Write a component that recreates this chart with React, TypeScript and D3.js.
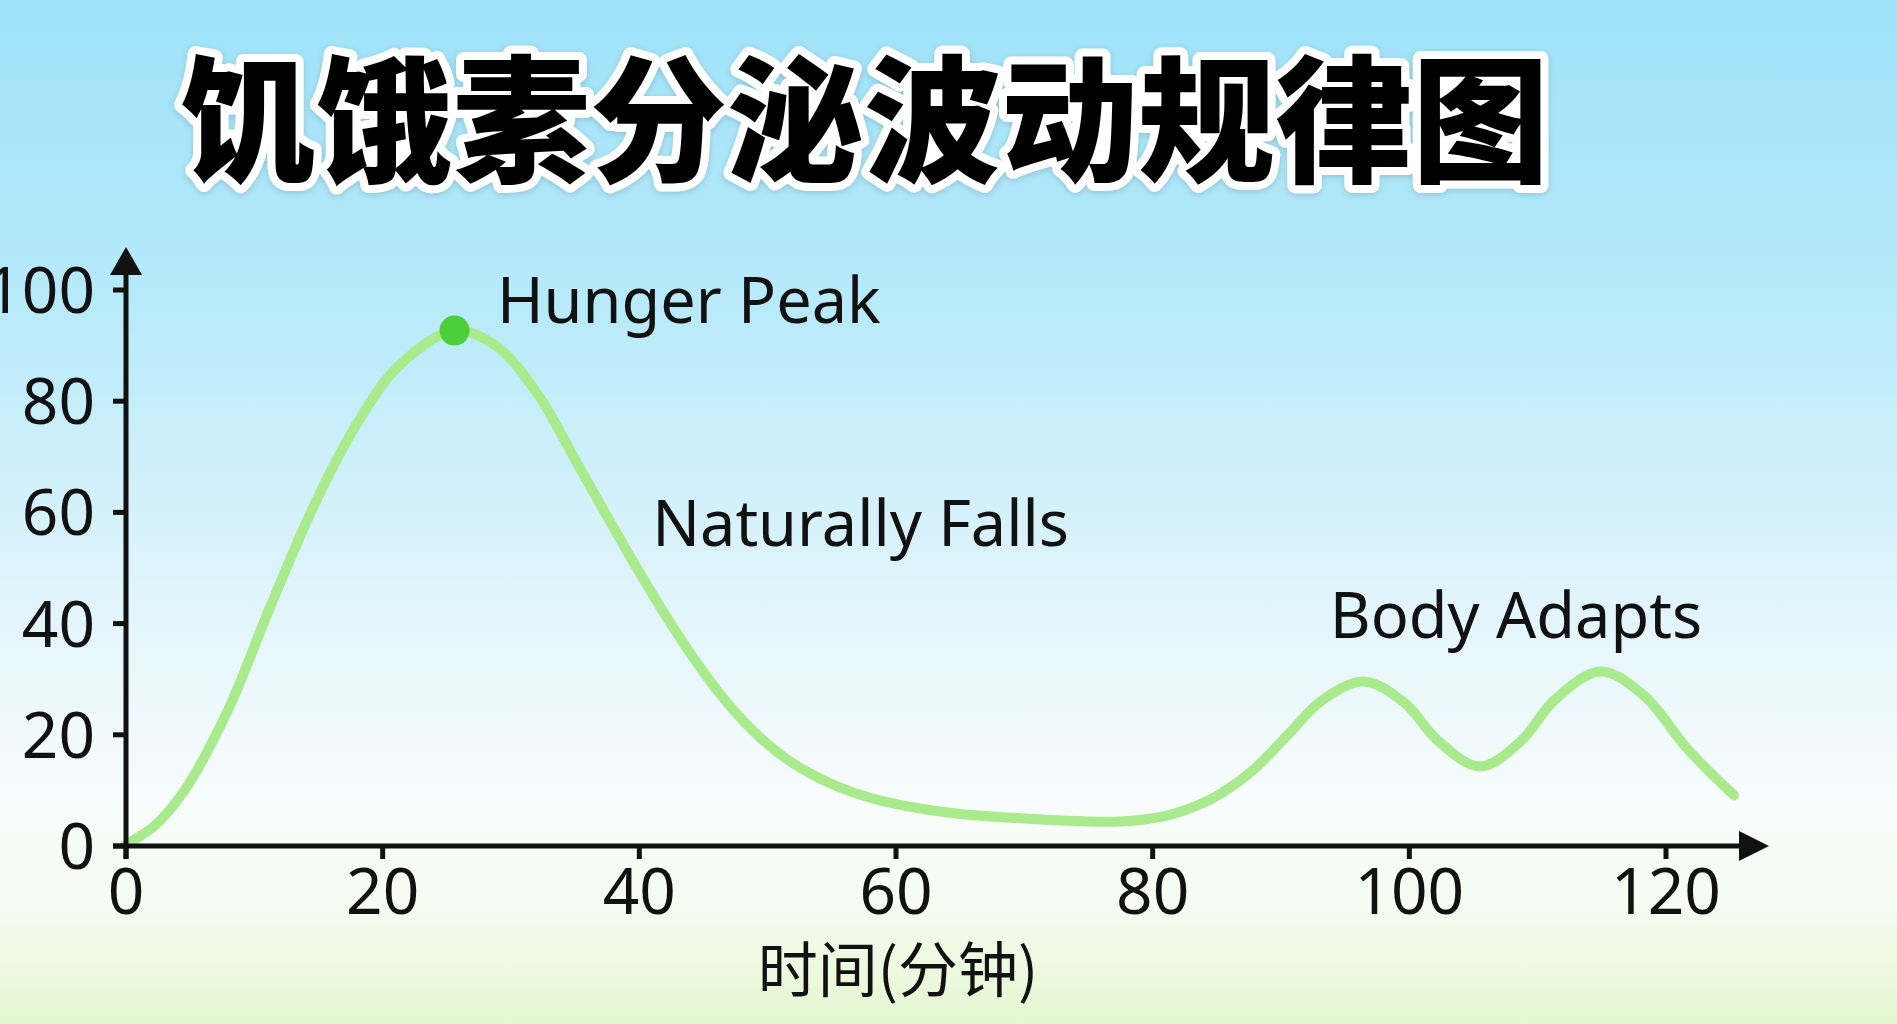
import React from "react";
import * as d3 from "d3";

const W = 1897;
const H = 1024;

const title = "饥饿素分泌波动规律图";
const xAxisTitle = "时间(分钟)";
const xTicks = [0, 20, 40, 60, 80, 100, 120];
const yTicks = [0, 20, 40, 60, 80, 100];

const times = [0, 2.2, 4.5, 7.9, 11.2, 14.6, 17.9, 21.2, 25.6, 28.8, 32.1, 35.4, 38.5, 41.1, 43.7, 46.3, 48.9, 51.5, 54.1, 56.7, 59.3, 64.5, 69.7, 77.5, 81, 83.5, 85.3, 87.9, 90.5, 93.1, 96.4, 99.6, 102.2, 105.5, 108.7, 111.3, 114.9, 118.3, 121.7, 125.3];
const levels = [0.3, 3.6, 9.8, 24.2, 42.8, 61.0, 75.6, 86.2, 92.7, 90.0, 81.2, 67.8, 55.2, 45.0, 35.6, 27.3, 20.6, 15.6, 12.1, 9.6, 7.9, 5.9, 5.0, 4.4, 5.4, 7.3, 9.4, 13.8, 19.9, 26.0, 29.6, 25.8, 19.0, 14.3, 18.9, 26.2, 31.4, 27.0, 17.4, 9.1];

const peakPoint = { t: 25.6, v: 92.7 };

const annotationTexts = ["Hunger Peak", "Naturally Falls", "Body Adapts"];
const annotationT = [28.9, 41.0, 93.8];
const annotationV = [94, 54, 37.5];

export default function App() {
  const x = d3.scaleLinear().domain([0, 120]).range([126, 1666]);
  const y = d3.scaleLinear().domain([0, 100]).range([846, 290]);

  const data = times.map((t, i) => ({ t, v: levels[i] }));
  const line = d3
    .line<{ t: number; v: number }>()
    .x((d) => x(d.t))
    .y((d) => y(d.v))
    .curve(d3.curveCatmullRom.alpha(0.5));

  const x0 = x(0);
  const y0 = y(0);
  const xEnd = 1769;
  const yTop = 247;

  const font = "'Noto Sans', 'Open Sans', sans-serif";

  return (
    <svg
      width={W}
      height={H}
      viewBox={`0 0 ${W} ${H}`}
      style={{ position: "fixed", left: 0, top: 0, display: "block" }}
    >
      <defs>
        <linearGradient id="bg" x1="0" y1="0" x2="0" y2="1">
          <stop offset="0" stopColor="#9ee2f9" />
          <stop offset="0.3" stopColor="#b8eafa" />
          <stop offset="0.55" stopColor="#dcf3fb" />
          <stop offset="0.78" stopColor="#f8fcfc" />
          <stop offset="0.88" stopColor="#f6fcf2" />
          <stop offset="1" stopColor="#e4f6d0" />
        </linearGradient>
        <filter id="tshadow" x="-10%" y="-30%" width="120%" height="160%">
          <feDropShadow dx="0" dy="2" stdDeviation="3" floodColor="#000" floodOpacity="0.15" />
        </filter>
      </defs>
      <rect x={0} y={0} width={W} height={H} fill="url(#bg)" />

      {/* title */}
      <text
        x={864}
        y={172}
        textAnchor="middle"
        fontFamily="'Noto Sans CJK SC', sans-serif"
        fontWeight={900}
        fontSize={137}
        fill="#000"
        stroke="#ffffff"
        strokeWidth={16}
        strokeLinejoin="round"
        paintOrder="stroke"
        filter="url(#tshadow)"
      >
        {title}
      </text>

      {/* curve */}
      <path
        d={line(data) || ""}
        fill="none"
        stroke="#a8ea8c"
        strokeWidth={10}
        strokeLinecap="round"
        strokeLinejoin="round"
      />
      <circle cx={x(peakPoint.t)} cy={y(peakPoint.v)} r={15} fill="#4ccf3a" />

      {/* axes */}
      <g stroke="#111" strokeWidth={5} fill="none">
        <line x1={113} y1={y0} x2={xEnd - 20} y2={y0} />
        <line x1={x0} y1={y0 + 13} x2={x0} y2={yTop + 20} />
        {yTicks.map((v) => (
          <line key={"yt" + v} x1={x0 - 13} x2={x0} y1={y(v)} y2={y(v)} />
        ))}
        {xTicks.map((t) => (
          <line key={"xt" + t} x1={x(t)} x2={x(t)} y1={y0} y2={y0 + 13} />
        ))}
      </g>
      <path
        d={`M${xEnd},${y0} L${xEnd - 30},${y0 - 15} L${xEnd - 30},${y0 + 15} Z`}
        fill="#111"
      />
      <path
        d={`M${x0},${yTop} L${x0 - 16},${yTop + 28} L${x0 + 16},${yTop + 28} Z`}
        fill="#111"
      />

      {/* tick labels */}
      <g fontFamily={font} fontSize={64} fill="#111">
        {xTicks.map((t) => (
          <text key={"xl" + t} x={x(t)} y={914} textAnchor="middle">
            {t}
          </text>
        ))}
        {yTicks.map((v) => (
          <text key={"yl" + v} x={95} y={y(v) + 23} textAnchor="end">
            {v}
          </text>
        ))}
      </g>

      {/* x axis title */}
      <text
        x={898}
        y={992}
        textAnchor="middle"
        fontFamily="'Noto Sans CJK SC', sans-serif"
        fontSize={60}
        fill="#111"
      >
        {xAxisTitle}
      </text>

      {/* annotations */}
      <g fontFamily={font} fontSize={63} fill="#111">
        {annotationTexts.map((s, i) => (
          <text key={s} x={x(annotationT[i])} y={y(annotationV[i])}>
            {s}
          </text>
        ))}
      </g>
    </svg>
  );
}
